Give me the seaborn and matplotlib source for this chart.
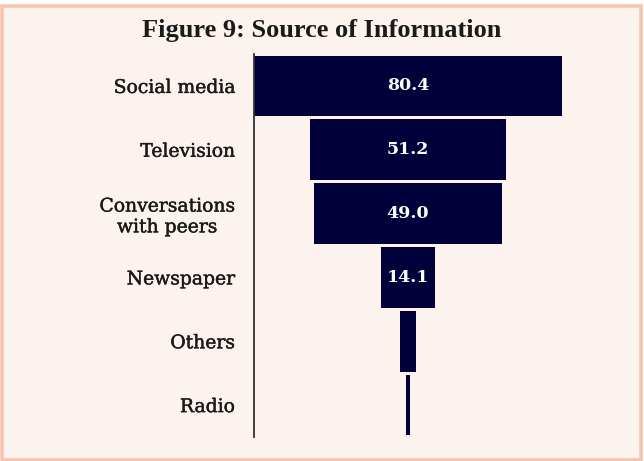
import pandas as pd
import matplotlib
matplotlib.use('Agg')
import matplotlib.pyplot as plt
from matplotlib.patches import Rectangle
import matplotlib.patheffects as pe
import seaborn as sns

sources = ['Social media', 'Television', 'Conversations\nwith peers', 'Newspaper', 'Others', 'Radio']
shares = [80.4, 51.2, 49.0, 14.1, 4.1, 0.8]
bar_labels = ['80.4', '51.2', '49.0', '14.1', '', '']

sns.set_theme(style='white')
plt.rcParams['font.family'] = ['DejaVu Serif', 'DejaVu Sans']

bg = '#FCF3EE'
navy = '#02003A'

df = pd.DataFrame({'source': sources, 'share': shares})
df['half'] = df['share'] / 2
df['neg'] = -df['share'] / 2

fig = plt.figure(figsize=(6.44, 4.61), dpi=100)
fig.patch.set_facecolor('white')
fig.patches.append(Rectangle((0.003, 0.003), 0.993, 1 - 6 / 461 - 0.003,
                             transform=fig.transFigure, facecolor=bg,
                             edgecolor='#F8C4AE', linewidth=2.6, zorder=-10))

ax = fig.add_axes([254 / 644, 1 - 437 / 461, 308 / 644, 383 / 461])
ax.set_facecolor('none')

# funnel = two mirrored halves around zero
sns.barplot(data=df, x='half', y='source', orient='h', color=navy,
            saturation=1, width=0.95, linewidth=0, ax=ax)
sns.barplot(data=df, x='neg', y='source', orient='h', color=navy,
            saturation=1, width=0.95, linewidth=0, ax=ax)

ax.set_xlim(-40.2, 40.2)
ax.set_ylim(5.5, -0.5)
ax.set_xlabel('')
ax.set_ylabel('')
ax.set_xticks([])

for i, t in enumerate(bar_labels):
    if t:
        ax.text(0, i, t, color='white', ha='center', va='center',
                fontsize=12.5, fontweight='bold')

for s in ['top', 'right', 'bottom']:
    ax.spines[s].set_visible(False)
ax.spines['left'].set_color('#333333')
ax.spines['left'].set_linewidth(1.3)

ax.tick_params(axis='y', length=0, pad=14, labelsize=13.5, labelcolor='#1a1a1a')
for lab in ax.get_yticklabels():
    lab.set_multialignment('center')
    # slightly heavier strokes, like the original's medium slab face
    lab.set_path_effects([pe.withStroke(linewidth=0.3, foreground='#1a1a1a')])

fig.text(0.5, 1 - 30 / 461, 'Figure 9: Source of Information', ha='center', va='center',
         fontsize=19, fontweight='bold', family=['Liberation Serif'], color='#1a1a1a')

fig.savefig('out.png', dpi=100, facecolor=fig.get_facecolor())
